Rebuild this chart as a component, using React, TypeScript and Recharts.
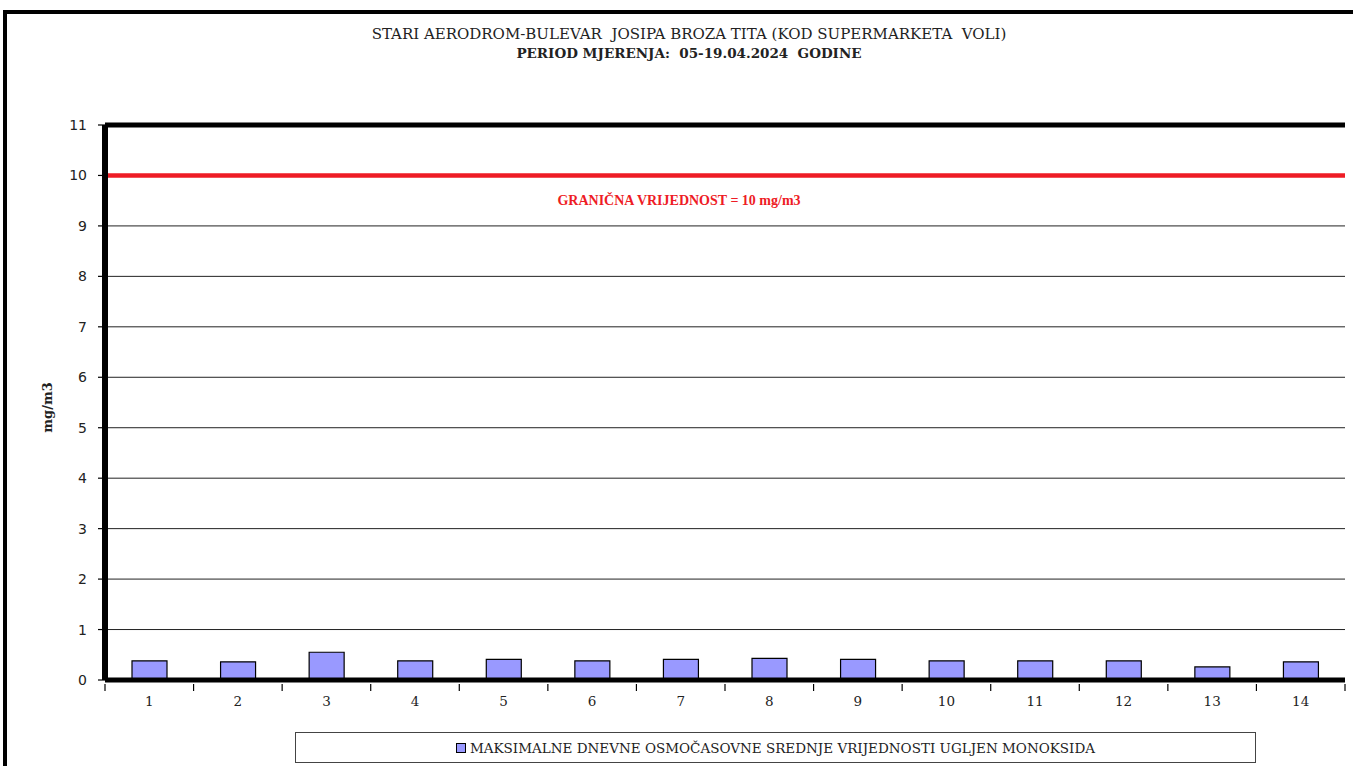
import React from 'react';
import {
  BarChart, Bar, XAxis, YAxis, CartesianGrid, ReferenceLine,
} from 'recharts';

// ── Data ──────────────────────────────────────────────────────
const days = ['1', '2', '3', '4', '5', '6', '7', '8', '9', '10', '11', '12', '13', '14'];
const coMax = [0.38, 0.36, 0.55, 0.38, 0.41, 0.38, 0.41, 0.43, 0.41, 0.38, 0.38, 0.38, 0.26, 0.36];
const yTicks = [0, 1, 2, 3, 4, 5, 6, 7, 8, 9, 10, 11];
const limitValue = 10;
const titleLine1 = 'STARI AERODROM-BULEVAR  JOSIPA BROZA TITA (KOD SUPERMARKETA  VOLI)';
const titleLine2 = 'PERIOD MJERENJA:  05-19.04.2024  GODINE';
const limitLabel = 'GRANIČNA VRIJEDNOST = 10 mg/m3';
const seriesName = 'MAKSIMALNE DNEVNE OSMOČASOVNE SREDNJE VRIJEDNOSTI UGLJEN MONOKSIDA';
const unit = 'mg/m3';

const data = days.map((d, i) => ({ day: d, co: coMax[i] }));

const SERIF = '"Liberation Serif", serif';
const DJ_SERIF = '"DejaVu Serif", serif';

// ── X tick: label centred, tick mark on category boundary ─────
function DayTick(props: any) {
  const { x, y, payload, index, visibleTicksCount } = props;
  const half = payload?.offset ?? 0;
  const left = x - half;
  const right = x + half;
  const isLast = index === (visibleTicksCount ?? days.length) - 1;
  return (
    <g>
      <line x1={left} x2={left} y1={y - 4} y2={y + 3} stroke="#000" strokeWidth={1.2} />
      {isLast && <line x1={right} x2={right} y1={y - 4} y2={y + 3} stroke="#000" strokeWidth={1.2} />}
      <text x={x} y={y + 18} textAnchor="middle" fontFamily={DJ_SERIF} fontSize={13.5} fill="#222">
        {payload.value}
      </text>
    </g>
  );
}

// ── Legend box ────────────────────────────────────────────────
function LegendBox() {
  return (
    <div style={{
      position: 'absolute', left: 295, top: 732, width: 961, height: 31,
      border: '1px solid #444', display: 'flex', alignItems: 'center',
      justifyContent: 'center', background: '#fff', boxSizing: 'border-box',
    }}>
      <span style={{
        display: 'inline-block', width: 8, height: 8, background: '#9999ff',
        border: '1.5px solid #000', marginRight: 4,
      }} />
      <span style={{ fontFamily: DJ_SERIF, fontSize: 13.5, color: '#222' }}>{seriesName}</span>
    </div>
  );
}

export default function App() {
  return (
    <div style={{ position: 'absolute', left: 0, top: 0, width: 1353, height: 766, background: '#fff', overflow: 'hidden' }}>
      {/* outer frame */}
      <div style={{
        position: 'absolute', left: 3, top: 10, width: 1400, height: 800,
        borderLeft: '4px solid #000', borderTop: '4px solid #000',
      }} />
      {/* title */}
      <div style={{
        position: 'absolute', left: 0, top: 25, width: 1378, textAlign: 'center',
        fontFamily: DJ_SERIF, fontSize: 15, color: '#222', whiteSpace: 'pre', lineHeight: '19px',
      }}>
        <div>{titleLine1}</div>
        <div style={{ fontWeight: 'bold', fontSize: 13.5 }}>{titleLine2}</div>
      </div>

      <div style={{ position: 'absolute', left: 0, top: 0 }}>
        <BarChart
          width={1353}
          height={766}
          data={data}
          margin={{ top: 125, right: 8, left: 25, bottom: 56 }}
          barSize={35}
        >
          <CartesianGrid yAxisId="left" horizontal vertical={false} stroke="#222" strokeWidth={1} />
          <XAxis
            dataKey="day"
            axisLine={{ stroke: '#000', strokeWidth: 5 }}
            tickLine={false}
            tick={<DayTick />}
            height={30}
            interval={0}
          />
          <YAxis
            yAxisId="left"
            domain={[0, 11]}
            ticks={yTicks}
            interval={0}
            width={80}
            axisLine={{ stroke: '#000', strokeWidth: 6 }}
            tickLine={{ stroke: '#000', strokeWidth: 1.2 }}
            tickSize={7}
            tickMargin={11}
            tick={{ fontFamily: '"DejaVu Sans", sans-serif', fontSize: 14, fill: '#222' }}
            label={(p: any) => {
              const vb = p.viewBox || {};
              const cx = vb.x + 22;
              const cy = vb.y + vb.height / 2 + 5;
              return (
                <text x={cx} y={cy} transform={`rotate(-90 ${cx} ${cy})`} textAnchor="middle"
                  dominantBaseline="central" fontFamily={DJ_SERIF} fontWeight="bold" fontSize={13} fill="#222">
                  {unit}
                </text>
              );
            }}
          />
          <YAxis
            yAxisId="right"
            orientation="right"
            domain={[0, 11]}
            width={0}
            tick={false}
            tickLine={false}
            axisLine={{ stroke: '#000', strokeWidth: 5 }}
          />
          <ReferenceLine yAxisId="left" y={11} stroke="#000" strokeWidth={5} />
          <ReferenceLine
            yAxisId="left"
            y={limitValue}
            stroke="#ee1c25"
            strokeWidth={4.5}
            label={{
              value: limitLabel, position: 'insideBottom', dy: 35, dx: -46,
              fill: '#ee1c25', fontFamily: SERIF, fontWeight: 'bold', fontSize: 14,
            }}
          />
          <Bar
            yAxisId="left"
            dataKey="co"
            name={seriesName}
            fill="#9999ff"
            stroke="#000"
            strokeWidth={1.2}
            isAnimationActive={false}
          />
        </BarChart>
      </div>
      <LegendBox />
    </div>
  );
}
